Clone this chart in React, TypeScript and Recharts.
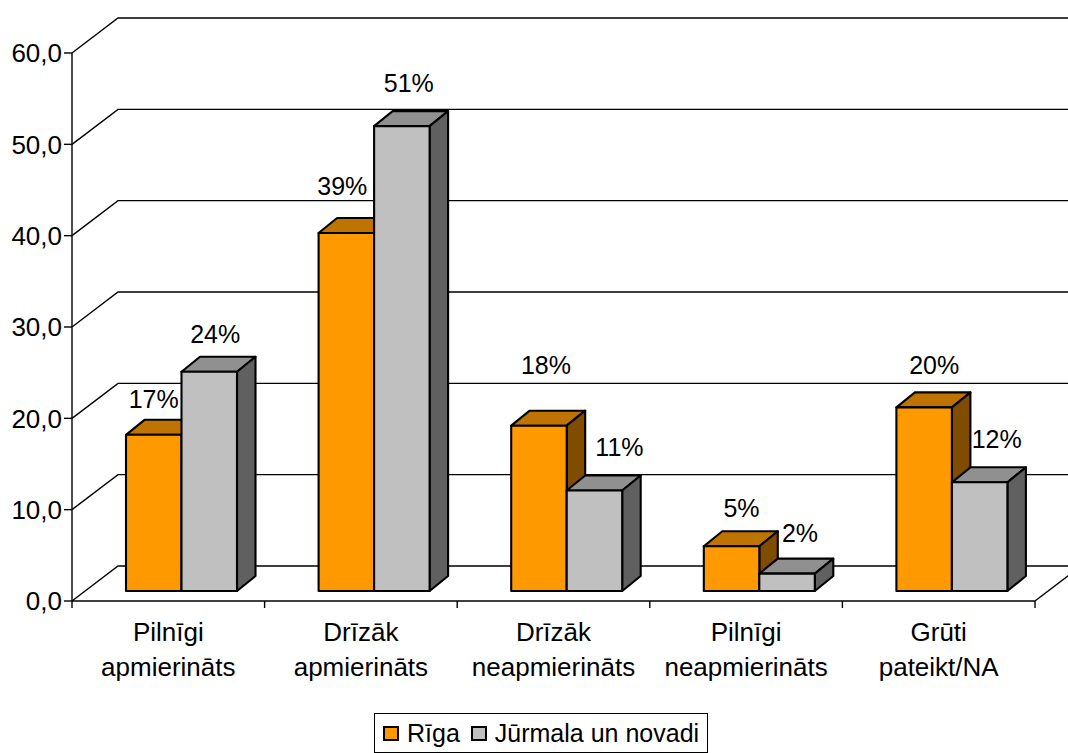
import React from 'react';
import { BarChart, Bar, XAxis, YAxis, CartesianGrid, Legend, LabelList } from 'recharts';

const categories = [
  ['Pilnīgi', 'apmierināts'],
  ['Drīzāk', 'apmierināts'],
  ['Drīzāk', 'neapmierināts'],
  ['Pilnīgi', 'neapmierināts'],
  ['Grūti', 'pateikt/NA'],
];
const rigaValues = [17.1, 39.2, 18.1, 4.9, 20.1];
const jurmalaValues = [24, 50.9, 11, 1.9, 11.9];
const yTicks = [0, 10, 20, 30, 40, 50, 60];

const chartData = categories.map((lines, i) => ({
  name: lines.join(' '),
  riga: rigaValues[i],
  jurmala: jurmalaValues[i],
}));

const FONT = '"Liberation Sans", Arial, sans-serif';
const TEXT_SIZE = 26;
const INK = '#000';

// depth of the fake 3D box
const WALL_DX = 46;
const WALL_DY = 35;
const BAR_DX = 18.5;
const BAR_DY = 15;
// bars stand a bit inside the floor
const BAR_SHIFT_X = 13;
const BAR_SHIFT_Y = -10;

const ORANGE = { front: '#FF9900', top: '#BF7300', side: '#7F4C00' };
const GREY = { front: '#C0C0C0', top: '#909090', side: '#606060' };

// hand placed data labels, as in the original
const rigaLabelDx = [0, -4, 7, 10, 10];
const rigaLabelRise = [36, 47, 61, 38, 42];
const jurmalaLabelDx = [6, 7, 25, 13, 17];
const jurmalaLabelRise = [38, 43, 44, 41, 43];

const Box3D = (colors: typeof ORANGE) => (props: any) => {
  const x = props.x + BAR_SHIFT_X;
  const y = props.y + BAR_SHIFT_Y;
  const w = props.width;
  const h = props.height;
  const line = { stroke: INK, strokeWidth: 2.1, strokeLinejoin: 'round' as const };
  return (
    <g>
      <polygon
        points={`${x},${y} ${x + BAR_DX},${y - BAR_DY} ${x + w + BAR_DX},${y - BAR_DY} ${x + w},${y}`}
        fill={colors.top}
        {...line}
      />
      <polygon
        points={`${x + w},${y} ${x + w + BAR_DX},${y - BAR_DY} ${x + w + BAR_DX},${y + h - BAR_DY} ${x + w},${y + h}`}
        fill={colors.side}
        {...line}
      />
      <rect x={x} y={y} width={w} height={h} fill={colors.front} {...line} />
    </g>
  );
};

const barLabel = (dxs: number[], rises: number[]) => (props: any) => {
  const { x, y, width, value, index } = props;
  return (
    <text
      x={x + BAR_SHIFT_X + width / 2 + dxs[index]}
      y={y + BAR_SHIFT_Y - rises[index]}
      textAnchor="middle"
      dominantBaseline="central"
      fontFamily={FONT}
      fontSize={25}
      fill={INK}
    >
      {`${Math.round(value)}%`}
    </text>
  );
};

const wallLine = (props: any) => {
  const { x1, x2, y1, key } = props;
  const isFloor = y1 > 590;
  return (
    <g key={key ?? y1}>
      <polyline
        points={`${x1},${y1} ${x1 + WALL_DX},${y1 - WALL_DY} ${x2 + WALL_DX},${y1 - WALL_DY}`}
        fill="none"
        stroke={INK}
        strokeWidth={1.4}
      />
      {isFloor && (
        <line x1={x2} y1={y1} x2={x2 + WALL_DX} y2={y1 - WALL_DY} stroke={INK} strokeWidth={1.4} />
      )}
    </g>
  );
};

const CategoryTick = (props: any) => {
  const { x, y, payload, index } = props;
  const half = payload.offset ?? 96.3;
  const lines = categories[index];
  return (
    <g>
      <line x1={x - half} y1={y} x2={x - half} y2={y + 7} stroke={INK} strokeWidth={1.4} />
      {index === categories.length - 1 && (
        <line x1={x + half} y1={y} x2={x + half} y2={y + 7} stroke={INK} strokeWidth={1.4} />
      )}
      {lines.map((t, i) => (
        <text
          key={t}
          x={x}
          y={y + 39.5 + i * 35}
          textAnchor="middle"
          fontFamily={FONT}
          fontSize={TEXT_SIZE}
          fill={INK}
        >
          {t}
        </text>
      ))}
    </g>
  );
};

const LegendBox = ({ payload }: any) => (
  <div
    style={{
      boxSizing: 'border-box',
      width: 334,
      height: 40,
      border: '1.5px solid #000',
      background: '#fff',
      display: 'flex',
      alignItems: 'center',
      paddingLeft: 8,
      fontFamily: FONT,
      fontSize: 25,
      color: INK,
      whiteSpace: 'nowrap',
    }}
  >
    {(payload ?? []).map((item: any, i: number) => (
      <React.Fragment key={item.value}>
        <span
          style={{
            boxSizing: 'border-box',
            width: 16,
            height: 15,
            border: '2px solid #000',
            background: item.color,
            marginLeft: i === 0 ? 0 : 11,
            marginRight: 8,
            flex: 'none',
          }}
        />
        <span>{item.value}</span>
      </React.Fragment>
    ))}
  </div>
);

const App: React.FC = () => (
  <div style={{ position: 'absolute', left: 0, top: 0, width: 1068, height: 753, background: '#fff', overflow: 'hidden' }}>
    <BarChart
      width={1068}
      height={753}
      data={chartData}
      margin={{ top: 53, right: 33, bottom: 0, left: 0 }}
      barCategoryGap={0}
      barGap={0}
      style={{ overflow: 'hidden' }}
    >
      <CartesianGrid vertical={false} horizontal={wallLine} />
      <XAxis
        dataKey="name"
        height={112}
        interval={0}
        axisLine={{ stroke: INK, strokeWidth: 1.4 }}
        tickLine={false}
        tickSize={0}
        tickMargin={0}
        tick={CategoryTick}
      />
      <YAxis
        width={72}
        domain={[0, 60]}
        ticks={yTicks}
        tickFormatter={(v: number) => v.toFixed(1).replace('.', ',')}
        axisLine={{ stroke: INK, strokeWidth: 1.4 }}
        tickLine={{ stroke: INK, strokeWidth: 1.4 }}
        tickSize={8}
        tickMargin={2}
        tick={{ fontFamily: FONT, fontSize: TEXT_SIZE, fill: INK }}
      />
      <Legend
        verticalAlign="bottom"
        height={40}
        itemSorter={null}
        content={LegendBox}
        wrapperStyle={{ position: 'absolute', left: 374, top: 713, width: 334, height: 40 }}
      />
      <Bar dataKey="riga" name="Rīga" fill={ORANGE.front} barSize={55.5} shape={Box3D(ORANGE)} isAnimationActive={false}>
        <LabelList dataKey="riga" content={barLabel(rigaLabelDx, rigaLabelRise)} />
      </Bar>
      <Bar dataKey="jurmala" name="Jūrmala un novadi" fill={GREY.front} barSize={55.5} shape={Box3D(GREY)} isAnimationActive={false}>
        <LabelList dataKey="jurmala" content={barLabel(jurmalaLabelDx, jurmalaLabelRise)} />
      </Bar>
    </BarChart>
  </div>
);

export default App;
